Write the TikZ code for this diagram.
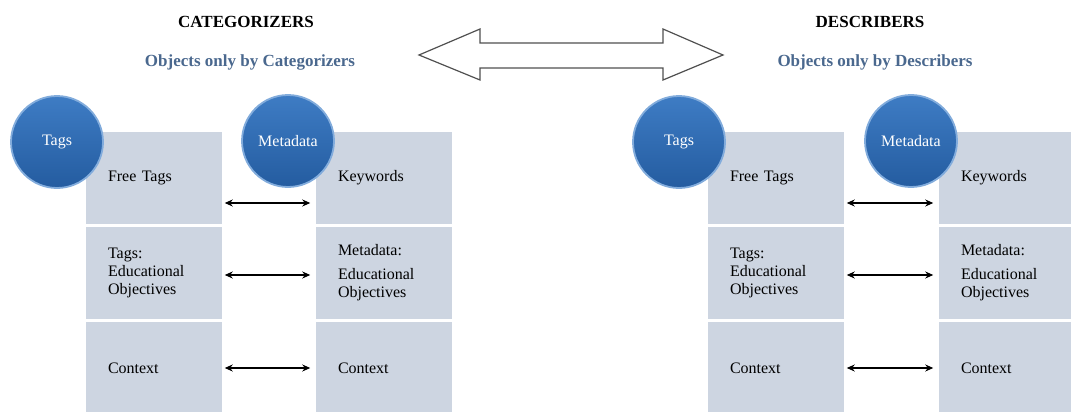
\documentclass[tikz,border=0pt]{standalone}
\usepackage{fontspec}
\setmainfont{Liberation Serif}
\usetikzlibrary{arrows.meta}
\definecolor{cellgray}{RGB}{205,213,225}
\definecolor{ballhi}{RGB}{62,124,196}
\definecolor{balllo}{RGB}{36,92,160}
\definecolor{ballrim}{RGB}{130,172,220}
\definecolor{subblue}{RGB}{74,104,142}
\definecolor{arrowgray}{RGB}{80,80,80}

\begin{document}
\begin{tikzpicture}[x=1pt, y=-1pt, node distance=95pt]
		% Estilos
		\tikzstyle{title} = [font=\fontsize{17}{20}\selectfont\bfseries]
		\tikzstyle{subtitle} = [title, text=subblue]
		\tikzstyle{cell} = [rectangle, fill=cellgray, draw=white, line width=1.5pt, minimum width=138pt, minimum height=93pt, text width=92pt, inner xsep=23pt, align=left, font=\fontsize{16}{18}\selectfont]
		\tikzstyle{ball} = [circle, minimum size=92pt, inner sep=0pt, top color=ballhi, bottom color=balllo, draw=ballrim, line width=1.8pt, text=white, font=\fontsize{16}{18}\selectfont]
		\tikzstyle{link} = [line width=1.2pt, {Stealth[length=8pt,width=7pt]}-{Stealth[length=8pt,width=7pt]}, shorten <=1pt, shorten >=4pt]
		\tikzstyle{bigarrow} = [draw=arrowgray, fill=white, line width=1.2pt, line join=miter]
		\useasboundingbox (0,0) rectangle (1071,412);
		% Categorizers
		\node (cattitle) [title] at (246,22) {CATEGORIZERS};
		\node (catsub) [subtitle] at (250,62) {Objects only by Categorizers};
		\node (cfree) [cell] at (154,178) {Free Tags};
		\node (cedu) [cell, below of=cfree] {Tags:\\Educational\\Objectives};
		\node (cctx) [cell, below of=cedu] {Context};
		\node (ckey) [cell] at (384,178) {Keywords};
		\node (cmedu) [cell, below of=ckey] {Metadata:\\[6pt]Educational\\Objectives};
		\node (cmctx) [cell, below of=cmedu] {Context};
		\node (ctags) [ball] at (57,142) {Tags};
		\node (cmeta) [ball] at (288,141) {Metadata};
		% Describers
		\node (destitle) [title] at (870,22) {DESCRIBERS};
		\node (dessub) [subtitle] at (875,62) {Objects only by Describers};
		\node (dfree) [cell] at (776,178) {Free Tags};
		\node (dedu) [cell, below of=dfree] {Tags:\\Educational\\Objectives};
		\node (dctx) [cell, below of=dedu] {Context};
		\node (dkey) [cell] at (1007,178) {Keywords};
		\node (dmedu) [cell, below of=dkey] {Metadata:\\[6pt]Educational\\Objectives};
		\node (dmctx) [cell, below of=dmedu] {Context};
		\node (dtags) [ball] at (679,142) {Tags};
		\node (dmeta) [ball] at (911,141) {Metadata};
		% Setas
		\draw [link] ([yshift=-25pt]cfree.east) -- ([yshift=-25pt]ckey.west);
		\draw [link] ([yshift=-2pt]cedu.east) -- ([yshift=-2pt]cmedu.west);
		\draw [link] (cctx) -- (cmctx);
		\draw [link] ([yshift=-25pt]dfree.east) -- ([yshift=-25pt]dkey.west);
		\draw [link] ([yshift=-2pt]dedu.east) -- ([yshift=-2pt]dmedu.west);
		\draw [link] (dctx) -- (dmctx);
		% Seta dupla
		\draw [bigarrow] (419,55) -- (480,29) -- (480,43) -- (663,43) -- (663,29) -- (723,55)
			-- (663,80) -- (663,68) -- (480,68) -- (480,80) -- cycle;
	\end{tikzpicture}
\end{document}
